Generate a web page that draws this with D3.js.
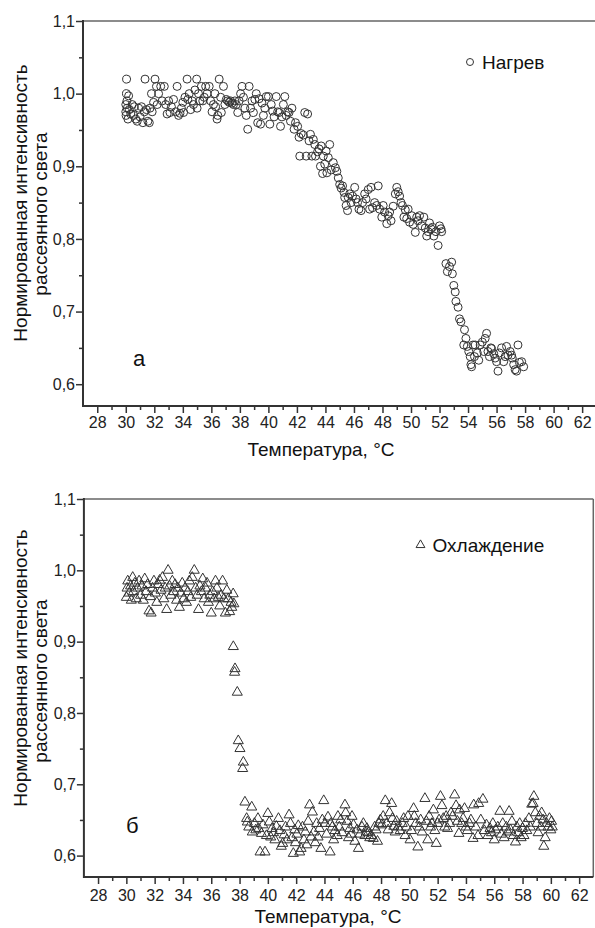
<!DOCTYPE html>
<html>
<head>
<meta charset="utf-8">
<script src="https://cdn.jsdelivr.net/npm/d3@7"></script>
<style>
  body { margin: 0; background: #fff; }
  svg { display: block; font-family: "Liberation Sans", Arial, sans-serif; }
</style>
</head>
<body>
<svg id="chart" width="595" height="928"></svg>
<script>
// temperature (°C), normalized scattered light intensity
const heating = [
  [30.0,0.985],[30.0,0.975],[30.02,0.97],[30.05,1.0],[30.06,1.02],[30.08,0.99],[30.1,0.98],[30.15,0.965],
  [30.2,0.997],[30.25,0.978],[30.35,0.972],[30.45,0.985],[30.55,0.97],[30.6,0.982],[30.7,0.965],[30.8,0.962],
  [30.9,0.98],[31.0,0.968],[31.1,0.982],[31.2,0.96],[31.3,0.975],[31.35,1.02],[31.45,0.978],[31.55,0.962],
  [31.65,0.96],[31.7,0.98],[31.8,1.0],[31.85,0.975],[31.95,0.988],[32.05,1.02],[32.15,1.01],[32.2,0.985],
  [32.3,1.0],[32.45,1.01],[32.55,0.99],[32.7,1.01],[32.8,0.985],[32.9,0.972],[33.0,0.99],[33.1,0.974],
  [33.2,0.982],[33.35,0.992],[33.5,0.975],[33.6,1.01],[33.7,0.97],[33.8,0.973],[33.9,0.98],[34.0,0.988],
  [34.05,0.974],[34.15,0.995],[34.3,1.02],[34.35,0.992],[34.45,1.0],[34.55,0.978],[34.65,0.99],[34.75,0.985],
  [34.85,1.005],[34.97,1.02],[35.0,0.98],[35.1,1.0],[35.2,0.99],[35.3,1.01],[35.4,0.99],[35.5,0.995],
  [35.6,1.01],[35.7,1.0],[35.85,1.01],[35.95,0.99],[36.05,0.975],[36.15,0.985],[36.25,1.0],[36.3,0.982],
  [36.4,0.965],[36.45,0.97],[36.55,1.02],[36.65,0.995],[36.7,0.974],[36.85,1.01],[36.95,0.985],[37.05,0.992],
  [37.15,0.99],[37.25,0.988],[37.35,0.99],[37.45,0.987],[37.55,0.985],[37.65,0.99],[37.75,0.985],[37.85,0.974],
  [37.95,0.99],[38.05,1.0],[38.15,1.01],[38.25,0.995],[38.35,0.98],[38.45,0.97],[38.55,0.951],[38.65,1.01],
  [38.75,0.98],[38.85,0.99],[38.95,0.974],[39.05,0.992],[39.15,1.0],[39.25,0.96],[39.35,0.993],[39.45,0.958],
  [39.55,0.987],[39.65,0.97],[39.75,0.98],[39.85,0.996],[40.0,0.996],[40.1,0.958],[40.2,0.985],[40.3,0.976],
  [40.4,0.968],[40.55,0.996],[40.65,0.975],[40.75,0.974],[40.85,0.955],[40.95,0.968],[41.05,0.985],[41.15,0.996],
  [41.25,0.97],[41.35,0.975],[41.45,0.974],[41.55,0.962],[41.65,0.98],[41.8,0.951],[41.9,0.96],[42.05,0.955],
  [42.15,0.94],[42.2,0.914],[42.3,0.945],[42.45,0.943],[42.55,0.974],[42.65,0.914],[42.75,0.972],[42.85,0.935],
  [42.95,0.944],[43.05,0.914],[43.15,0.937],[43.25,0.93],[43.3,0.914],[43.45,0.92],[43.55,0.924],[43.65,0.9],
  [43.7,0.928],[43.8,0.89],[43.85,0.914],[43.95,0.903],[44.05,0.921],[44.1,0.891],[44.2,0.912],[44.3,0.93],
  [44.4,0.895],[44.55,0.905],[44.7,0.898],[44.8,0.893],[44.9,0.884],[45.0,0.875],[45.1,0.87],[45.2,0.873],
  [45.3,0.864],[45.35,0.857],[45.45,0.846],[45.55,0.839],[45.6,0.857],[45.7,0.862],[45.8,0.85],[45.9,0.859],
  [46.05,0.871],[46.15,0.855],[46.25,0.85],[46.35,0.841],[46.5,0.839],[46.6,0.85],[46.75,0.862],[46.85,0.855],
  [47.0,0.868],[47.1,0.841],[47.2,0.871],[47.3,0.843],[47.45,0.85],[47.6,0.846],[47.7,0.873],[47.8,0.841],
  [47.95,0.83],[48.05,0.846],[48.15,0.837],[48.3,0.821],[48.4,0.832],[48.5,0.837],[48.6,0.825],[48.75,0.845],
  [48.9,0.862],[49.0,0.871],[49.1,0.865],[49.2,0.859],[49.3,0.85],[49.4,0.846],[49.5,0.83],[49.6,0.84],
  [49.7,0.828],[49.8,0.841],[49.9,0.823],[50.05,0.832],[50.15,0.82],[50.3,0.809],[50.4,0.83],[50.5,0.825],
  [50.6,0.832],[50.75,0.818],[50.9,0.83],[51.0,0.815],[51.1,0.804],[51.2,0.81],[51.3,0.822],[51.4,0.814],
  [51.5,0.816],[51.6,0.804],[51.75,0.81],[51.9,0.791],[52.0,0.818],[52.1,0.814],[52.15,0.81],[52.45,0.766],
  [52.55,0.755],[52.7,0.762],[52.85,0.768],[52.9,0.752],[53.0,0.736],[53.1,0.727],[53.15,0.714],[53.3,0.706],
  [53.4,0.69],[53.5,0.686],[53.75,0.675],[53.85,0.663],[53.7,0.654],[53.95,0.652],[54.05,0.645],[54.15,0.638],
  [54.2,0.627],[54.25,0.624],[54.35,0.654],[54.45,0.638],[54.5,0.654],[54.65,0.643],[54.75,0.633],[54.85,0.654],
  [55.0,0.658],[55.1,0.645],[55.2,0.663],[55.3,0.67],[55.4,0.645],[55.5,0.638],[55.6,0.65],[55.65,0.649],
  [55.8,0.642],[55.9,0.636],[56.0,0.631],[56.1,0.618],[56.2,0.643],[56.35,0.65],[56.5,0.631],[56.6,0.638],
  [56.7,0.652],[56.8,0.64],[56.95,0.645],[57.05,0.64],[57.1,0.636],[57.2,0.627],[57.3,0.62],[57.4,0.618],
  [57.5,0.654],[57.6,0.63],[57.76,0.631],[57.9,0.624]
];

const cooling = [
  [30.0,0.962],[30.05,0.975],[30.1,0.985],[30.2,0.968],[30.3,0.978],[30.35,0.958],[30.45,0.99],[30.5,0.97],
  [30.6,0.982],[30.7,0.96],[30.8,0.975],[30.9,0.985],[31.0,0.965],[31.1,0.978],[31.2,0.958],[31.3,0.988],
  [31.4,0.97],[31.5,0.98],[31.6,0.943],[31.7,0.963],[31.75,0.94],[31.85,0.975],[31.95,0.985],[32.05,0.968],
  [32.15,0.955],[32.25,0.98],[32.35,0.986],[32.45,0.972],[32.55,0.99],[32.65,0.96],[32.75,0.975],[32.85,0.945],
  [32.95,1.0],[33.05,0.978],[33.15,0.965],[33.25,0.985],[33.35,0.97],[33.45,0.98],[33.55,0.958],[33.65,0.975],
  [33.75,0.948],[33.85,0.968],[33.95,0.982],[34.05,0.96],[34.15,0.975],[34.25,0.955],[34.35,0.97],[34.45,0.985],
  [34.55,0.962],[34.66,0.99],[34.8,1.0],[34.9,0.975],[35.0,0.965],[35.1,0.945],[35.2,0.978],[35.3,0.97],
  [35.4,0.988],[35.5,0.96],[35.6,0.975],[35.7,0.982],[35.8,0.955],[35.9,0.965],[36.0,0.94],[36.1,0.97],
  [36.2,0.96],[36.3,0.985],[36.4,0.975],[36.5,0.962],[36.6,0.95],[36.7,0.965],[36.8,0.985],[36.9,0.96],
  [37.0,0.94],[37.1,0.972],[37.2,0.96],[37.3,0.942],[37.4,0.955],[37.45,0.948],[37.55,0.967],[37.6,0.953],
  [37.56,0.893],[37.68,0.862],[37.65,0.857],[37.84,0.829],[37.91,0.761],[38.03,0.75],[38.27,0.731],[38.22,0.722],
  [38.38,0.675],[38.5,0.652],[38.55,0.647],[38.65,0.64],[38.86,0.668],[38.9,0.633],
  [39.05,0.645],[39.15,0.636],[39.3,0.652],[39.35,0.638],[39.45,0.605],[39.55,0.631],[39.65,0.643],[39.8,0.605],[39.9,0.628],
  [40.0,0.659],[40.1,0.647],[40.2,0.626],[40.3,0.638],[40.4,0.632],[40.5,0.622],[40.6,0.641],[40.75,0.652],[40.85,0.635],[40.95,0.613],
  [41.05,0.617],[41.15,0.629],[41.25,0.64],[41.35,0.622],[41.5,0.657],[41.6,0.645],[41.7,0.625],[41.8,0.603],[41.9,0.636],[41.95,0.618],
  [42.05,0.63],[42.15,0.642],[42.25,0.605],[42.35,0.61],[42.45,0.64],[42.55,0.622],[42.65,0.633],[42.75,0.615],[42.85,0.648],[42.95,0.671],
  [43.05,0.626],[43.15,0.661],[43.25,0.633],[43.35,0.618],[43.45,0.645],[43.55,0.626],[43.65,0.638],[43.75,0.61],[43.85,0.65],[43.95,0.677],
  [44.05,0.645],[44.15,0.63],[44.25,0.654],[44.4,0.605],[44.45,0.645],[44.55,0.64],[44.65,0.622],[44.75,0.635],[44.9,0.628],[44.95,0.655],
  [45.05,0.64],[45.15,0.65],[45.25,0.632],[45.45,0.671],[45.5,0.66],[45.6,0.648],[45.7,0.625],[45.8,0.638],[45.9,0.63],[45.95,0.655],
  [46.05,0.643],[46.15,0.62],[46.3,0.636],[46.4,0.61],[46.5,0.63],[46.65,0.64],[46.75,0.645],[46.85,0.628],[46.95,0.633],[47.0,0.638],
  [47.1,0.632],[47.2,0.625],[47.3,0.628],[47.45,0.624],[47.55,0.64],[47.65,0.636],[47.75,0.62],[47.85,0.645],[47.95,0.65],
  [48.05,0.643],[48.15,0.655],[48.3,0.677],[48.4,0.645],[48.5,0.636],[48.6,0.66],[48.75,0.673],[48.8,0.652],[48.9,0.641],[49.0,0.633],
  [49.1,0.648],[49.2,0.64],[49.35,0.635],[49.5,0.645],[49.6,0.652],[49.7,0.628],[49.8,0.64],[49.9,0.655],
  [50.05,0.622],[50.15,0.635],[50.3,0.666],[50.35,0.655],[50.45,0.645],[50.6,0.612],[50.7,0.64],[50.8,0.65],[50.9,0.633],
  [51.1,0.68],[51.2,0.648],[51.3,0.622],[51.4,0.655],[51.5,0.64],[51.6,0.645],[51.7,0.664],[51.8,0.635],[51.9,0.617],
  [52.0,0.645],[52.1,0.65],[52.2,0.683],[52.3,0.67],[52.4,0.652],[52.5,0.64],[52.6,0.655],[52.7,0.638],[52.85,0.645],[52.95,0.66],
  [53.05,0.655],[53.2,0.685],[53.3,0.67],[53.4,0.648],[53.5,0.631],[53.55,0.664],[53.7,0.645],[53.8,0.652],[53.9,0.666],
  [54.0,0.64],[54.1,0.635],[54.25,0.645],[54.35,0.65],[54.5,0.624],[54.55,0.671],[54.7,0.64],[54.85,0.628],[54.9,0.673],
  [55.05,0.65],[55.2,0.679],[55.3,0.635],[55.45,0.643],[55.55,0.628],[55.7,0.638],[55.8,0.632],[55.9,0.645],
  [56.0,0.622],[56.1,0.636],[56.25,0.64],[56.4,0.662],[56.5,0.63],[56.6,0.645],[56.7,0.625],[56.85,0.64],[56.95,0.633],
  [57.05,0.662],[57.15,0.636],[57.25,0.648],[57.35,0.628],[57.5,0.619],[57.6,0.64],[57.7,0.632],[57.8,0.645],[57.9,0.625],
  [58.0,0.638],[58.1,0.628],[58.2,0.645],[58.3,0.635],[58.45,0.652],[58.55,0.64],[58.65,0.672],[58.75,0.673],[58.8,0.683],[58.9,0.66],
  [59.0,0.645],[59.1,0.632],[59.2,0.655],[59.3,0.64],[59.35,0.66],[59.45,0.65],[59.5,0.613],[59.6,0.625],[59.7,0.645],[59.8,0.64],
  [59.9,0.652],[60.0,0.636],[60.05,0.648],[60.1,0.64]
];

const xMajor = [28,30,32,34,36,38,40,42,44,46,48,50,52,54,56,58,60,62];
const xMinor = [29,31,33,35,37,39,41,43,45,47,49,51,53,55,57,59,61];
const yMajor = [0.6,0.7,0.8,0.9,1.0,1.1];
const yMinor = [0.65,0.75,0.85,0.95,1.05];
const xDomain = [27, 63];
const yDomain = [0.57, 1.1];

const xTitle = "Температура, °C";
const yTitle = ["Нормированная интенсивность", "рассеянного света"];

const svg = d3.select("#chart");
const fmtY = d => d.toFixed(1).replace(".", ",");

function drawPanel(p) {
  const g = svg.append("g");
  const x = d3.scaleLinear().domain(xDomain).range(p.xRange);
  const y = d3.scaleLinear().domain(yDomain).range(p.yRange);
  const [x0, x1] = p.xRange, [y0, y1] = p.yRange;

  // top and right frame
  g.append("line").attr("x1", x0).attr("x2", x1).attr("y1", y1).attr("y2", y1)
    .attr("stroke", "#666").attr("stroke-width", 1.5);
  g.append("line").attr("x1", x1).attr("x2", x1).attr("y1", y1).attr("y2", y0)
    .attr("stroke", "#666").attr("stroke-width", 1.5);

  const style = a => {
    a.select(".domain").remove();
    a.selectAll(".tick line").attr("stroke", "#333").attr("stroke-width", 1.5);
    a.selectAll(".tick text").attr("fill", "#222").attr("font-size", 16);
  };

  g.append("g").attr("transform", `translate(0,${y0})`)
    .call(d3.axisBottom(x).tickValues(xMinor).tickSize(4).tickFormat(""))
    .call(style);
  g.append("g").attr("transform", `translate(0,${y0})`)
    .call(d3.axisBottom(x).tickValues(xMajor).tickSize(7).tickPadding(p.xPad).tickFormat(d3.format("d")))
    .call(style);
  g.append("g").attr("transform", `translate(${x0},0)`)
    .call(d3.axisLeft(y).tickValues(yMinor).tickSize(4).tickFormat(""))
    .call(style);
  g.append("g").attr("transform", `translate(${x0},0)`)
    .call(d3.axisLeft(y).tickValues(yMajor).tickSize(7).tickPadding(1).tickFormat(fmtY))
    .call(style);

  // left and bottom axis lines
  g.append("line").attr("x1", x0).attr("x2", x0).attr("y1", y1 - 1).attr("y2", y0 + 1)
    .attr("stroke", "#333").attr("stroke-width", 2);
  g.append("line").attr("x1", x0).attr("x2", x1).attr("y1", y0).attr("y2", y0)
    .attr("stroke", "#333").attr("stroke-width", 2);

  // points
  if (p.marker === "circle") {
    g.append("g").selectAll("circle").data(p.data).join("circle")
      .attr("cx", d => x(d[0])).attr("cy", d => y(d[1])).attr("r", 4)
      .attr("fill", "none").attr("stroke", "#333").attr("stroke-width", 1);
  } else {
    const tri = d3.symbol().type(d3.symbolTriangle).size(44);
    g.append("g").selectAll("path").data(p.data).join("path")
      .attr("d", tri).attr("transform", d => `translate(${x(d[0])},${y(d[1])})`)
      .attr("fill", "none").attr("stroke", "#333").attr("stroke-width", 1);
  }

  // legend
  if (p.marker === "circle") {
    g.append("circle").attr("cx", p.legend[0]).attr("cy", p.legend[1]).attr("r", 3.5)
      .attr("fill", "none").attr("stroke", "#333").attr("stroke-width", 1);
  } else {
    g.append("path").attr("d", d3.symbol().type(d3.symbolTriangle).size(34))
      .attr("transform", `translate(${p.legend[0]},${p.legend[1]})`)
      .attr("fill", "none").attr("stroke", "#333").attr("stroke-width", 1);
  }
  g.append("text").attr("x", p.legend[0] + 12).attr("y", p.legend[1] + 6.5)
    .attr("font-size", 19).attr("fill", "#111").text(p.name);

  // panel letter
  g.append("text").attr("x", p.letter[0]).attr("y", p.letter[1])
    .attr("font-size", 22).attr("fill", "#111").text(p.letterText);

  // axis titles
  g.append("text").attr("x", p.xTitlePos[0]).attr("y", p.xTitlePos[1])
    .attr("text-anchor", "middle").attr("font-size", 19).attr("fill", "#111").text(xTitle);
  yTitle.forEach((t, i) => {
    g.append("text")
      .attr("transform", `translate(${i === 0 ? 27 : 47},${p.yTitleY[i]}) rotate(-90)`)
      .attr("text-anchor", "middle").attr("font-size", 19).attr("fill", "#111").text(t);
  });
}

drawPanel({
  data: heating, marker: "circle", name: "Нагрев",
  xRange: [83, 596.4], yRange: [406, 21], xPad: 4,
  legend: [470, 62], letter: [133, 366], letterText: "а",
  xTitlePos: [321, 456], yTitleY: [203, 214]
});

drawPanel({
  data: cooling, marker: "triangle", name: "Охлаждение",
  xRange: [83.9, 593.3], yRange: [877, 499], xPad: 6,
  legend: [420.5, 545], letter: [126, 833], letterText: "б",
  xTitlePos: [328, 923], yTitleY: [668, 681]
});
</script>
</body>
</html>
